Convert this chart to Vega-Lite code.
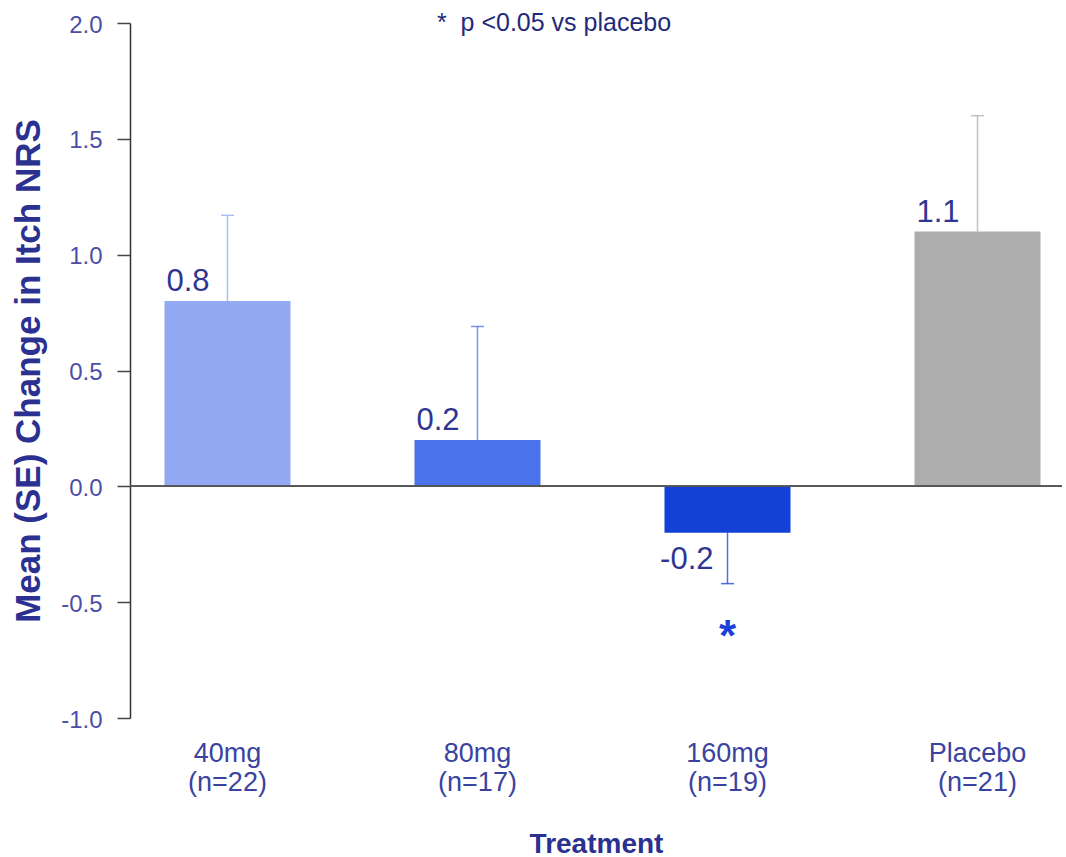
{
  "$schema": "https://vega.github.io/schema/vega-lite/v6.json",
  "width": 932,
  "height": 695,
  "autosize": {"type": "none"},
  "padding": {"left": 130, "top": 23, "right": 4, "bottom": 139},
  "background": "white",
  "config": {"view": {"stroke": null}, "font": "Liberation Sans"},
  "title": {
    "text": "*\u00a0\u00a0p <0.05 vs placebo",
    "anchor": "middle",
    "frame": "group",
    "baseline": "alphabetic",
    "offset": -43,
    "dx": -42,
    "font": "Liberation Sans",
    "fontSize": 25,
    "fontWeight": "normal",
    "color": "#1f2a7a"
  },
  "data": {
    "values": [
      {"group": "40mg (n=22)", "mean": 0.8, "err": 1.17, "sig": ""},
      {"group": "80mg (n=17)", "mean": 0.2, "err": 0.69, "sig": ""},
      {"group": "160mg (n=19)", "mean": -0.2, "err": -0.42, "sig": "*"},
      {"group": "Placebo (n=21)", "mean": 1.1, "err": 1.6, "sig": ""}
    ]
  },
  "transform": [
    {"calculate": "replace(format(datum.mean, '.1f'), '\u2212', '-')", "as": "mean_label"}
  ],
  "encoding": {
    "x": {
      "field": "group",
      "type": "nominal",
      "sort": null,
      "scale": {"paddingInner": 0.496, "paddingOuter": 0.112, "align": 0.616},
      "axis": {
        "title": "Treatment",
        "labelAngle": 0,
        "domain": false,
        "ticks": false,
        "tickSize": 0,
        "labelExpr": "split(datum.label, ' ')",
        "labelBaseline": "top",
        "labelPadding": 22,
        "labelLineHeight": 29,
        "labelFont": "Liberation Sans",
        "labelFontSize": 27,
        "labelColor": "#3a43a0",
        "titleFont": "Liberation Sans",
        "titleFontSize": 28,
        "titleFontWeight": "bold",
        "titleColor": "#2b3190",
        "titleBaseline": "alphabetic",
        "titleY": 134
      }
    },
    "color": {
      "field": "group",
      "type": "nominal",
      "sort": null,
      "scale": {"range": ["#93a9f3", "#4a72eb", "#1340d6", "#adadad"]},
      "legend": null
    }
  },
  "layer": [
    {
      "mark": {"type": "bar"},
      "encoding": {
        "y": {
          "field": "mean",
          "type": "quantitative",
          "scale": {"domain": [-1, 2], "nice": false, "zero": false},
          "axis": {
            "title": "Mean (SE) Change in Itch NRS",
            "values": [-1, -0.5, 0, 0.5, 1, 1.5, 2],
            "format": ".1f",
            "labelExpr": "replace(datum.label, '\u2212', '-')",
            "grid": false,
            "domainColor": "#333333",
            "domainWidth": 1.5,
            "tickColor": "#444444",
            "tickWidth": 1.5,
            "tickSize": 13,
            "labelPadding": 15,
            "labelOffset": 2,
            "labelFont": "Liberation Sans",
            "labelFontSize": 24,
            "labelColor": "#4b4fa6",
            "titleFont": "Liberation Sans",
            "titleFontSize": 35,
            "titleFontWeight": "bold",
            "titleColor": "#2b3190",
            "titleBaseline": "middle",
            "titleX": -102
          }
        }
      }
    },
    {
      "mark": {"type": "rule", "strokeWidth": 1.5, "strokeOpacity": 0.75},
      "encoding": {
        "y": {"field": "mean", "type": "quantitative"},
        "y2": {"field": "err"}
      }
    },
    {
      "mark": {"type": "tick", "size": 13, "thickness": 1.5, "opacity": 0.75},
      "encoding": {
        "y": {"field": "err", "type": "quantitative"}
      }
    },
    {
      "mark": {"type": "rule", "color": "#555555", "strokeWidth": 1.5},
      "encoding": {"y": {"datum": 0}, "color": {"value": "#555555"}, "x": null}
    },
    {
      "transform": [{"filter": "datum.mean >= 0"}],
      "mark": {
        "type": "text",
        "align": "right",
        "baseline": "alphabetic",
        "dx": -18,
        "dy": -10,
        "font": "Liberation Sans",
        "fontSize": 31
      },
      "encoding": {
        "y": {"field": "mean", "type": "quantitative"},
        "text": {"field": "mean_label", "type": "nominal"},
        "color": {"value": "#2f3692"}
      }
    },
    {
      "transform": [{"filter": "datum.mean < 0"}],
      "mark": {
        "type": "text",
        "align": "right",
        "baseline": "top",
        "dx": -14,
        "dy": 12,
        "font": "Liberation Sans",
        "fontSize": 31
      },
      "encoding": {
        "y": {"field": "mean", "type": "quantitative"},
        "text": {"field": "mean_label", "type": "nominal"},
        "color": {"value": "#2f3692"}
      }
    },
    {
      "transform": [{"filter": "datum.sig != ''"}],
      "mark": {
        "type": "text",
        "align": "center",
        "baseline": "alphabetic",
        "dy": 67,
        "font": "Liberation Sans",
        "fontSize": 44,
        "fontWeight": "bold"
      },
      "encoding": {
        "y": {"field": "err", "type": "quantitative"},
        "text": {"field": "sig", "type": "nominal"},
        "color": {"value": "#1b3fd8"}
      }
    }
  ]
}
